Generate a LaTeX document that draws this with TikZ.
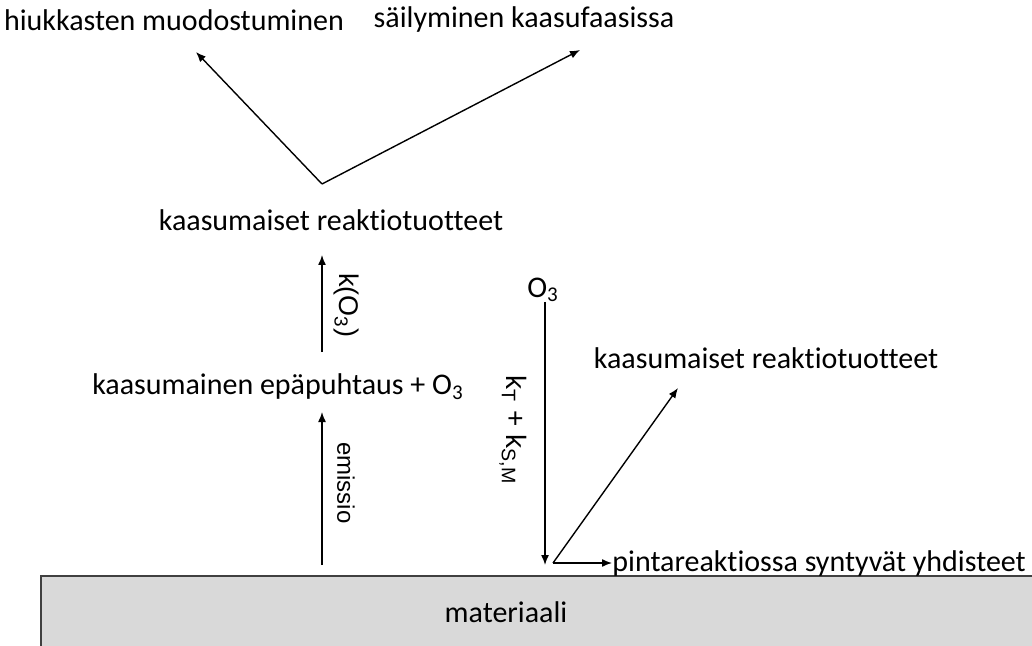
\documentclass[tikz,border=0pt]{standalone}
\usepackage{fontspec}
\setmainfont{Carlito}[Ligatures=NoCommon]
\newfontfamily\labelfont{Liberation Sans}
\usetikzlibrary{arrows.meta}
\tikzset{
	txt/.style={font=\fontsize{15}{18}\selectfont, inner sep=0pt},
	ratelabel/.style={font=\labelfont\fontsize{12}{14}\selectfont, inner sep=0pt, rotate=-90},
	flow/.style={line width=0.7pt, -{Latex[length=5pt,width=4pt]}}
}

\begin{document}
\begin{tikzpicture}[x=0.5pt, y=-0.5pt]
			%%%%% START %%%%%
			\useasboundingbox (0, 0) rectangle (1032, 646);
			
			\draw[line width=1pt, draw=black!75, fill=black!15] (41, 576) rectangle (1040, 660);
			\node[txt] (mat) at (506, 612) {materiaali};
			
			\node[txt] (hiuk) at (174, 20) {hiukkasten muodostuminen};
			\node[txt] (sail) at (524, 20) {säilyminen kaasufaasissa};
			\node[txt] (kaasu) at (331, 220) {kaasumaiset reaktiotuotteet};
			\node[txt] (epap) at (278, 387) {kaasumainen epäpuhtaus + O\textsubscript{3}};
			\node[txt] (otsoni) at (543, 290) {O\textsubscript{3}};
			\node[txt] (kaasu2) at (766, 358) {kaasumaiset reaktiotuotteet};
			\node[txt, anchor=west] (pinta) at (612, 563) {pintareaktiossa syntyvät yhdisteet};
			
			\coordinate (vkarki) at (322, 184);
			\coordinate (hiukpaa) at (196, 52);
			\coordinate (sailpaa) at (580, 50);
			\coordinate (kaasuala) at (322, 255);
			\coordinate (epapyla) at (322, 352);
			\coordinate (epapala) at (322, 412);
			\coordinate (emis) at (322, 565);
			\coordinate (otsyla) at (545, 302);
			\coordinate (otsala) at (545, 565);
			\coordinate (pinta0) at (553, 563);
			\coordinate (kaasu2paa) at (678, 388);
			
			\draw[flow] (vkarki) -- (hiukpaa);
			\draw[flow] (vkarki) -- (sailpaa);
			\draw[flow] (epapyla) -- (kaasuala);
			\draw[flow] (emis) -- (epapala);
			\draw[flow] (otsyla) -- (otsala);
			\draw[flow] (pinta0) -- (kaasu2paa);
			\draw[flow] (pinta0) -- (pinta.west);
			
			\node[ratelabel, font=\labelfont\fontsize{13.5}{15}\selectfont] (kO) at (346, 305) {k(O\textsubscript{3})};
			\node[ratelabel] (emlab) at (346, 483) {emissio};
			\node[ratelabel, font=\labelfont\fontsize{14}{16}\selectfont] (klab) at (513, 430) {k\textsubscript{T} + k\textsubscript{S,M}};
			%%%%% END %%%%%
		\end{tikzpicture}
\end{document}
